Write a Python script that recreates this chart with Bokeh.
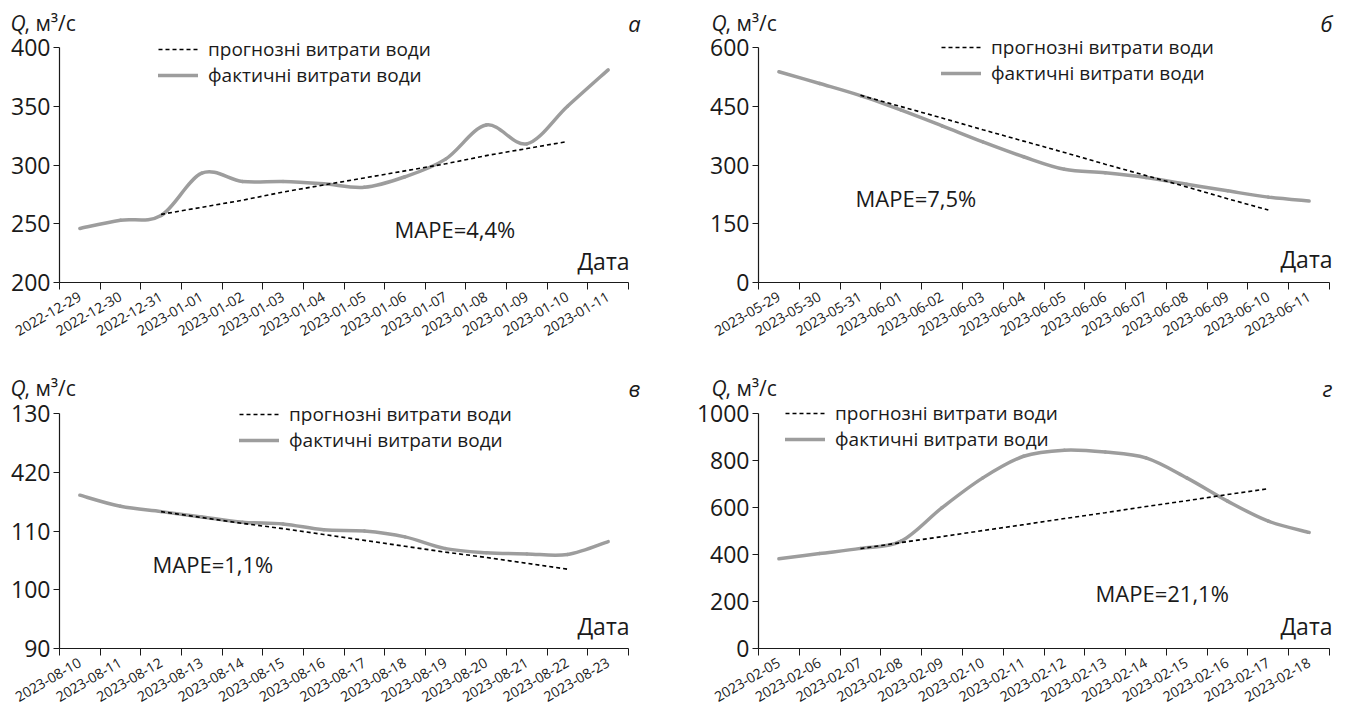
import numpy as np
from bokeh.plotting import figure
from bokeh.models import FixedTicker, Label, Legend, LegendItem, Range1d
from bokeh.layouts import column, row
from bokeh.embed import file_html
from bokeh.resources import INLINE

FONT = "Open Sans"
INK = "#1a1a1a"
GREY = "#9d9d9d"

# ---------------- data ----------------
dates_a = ["2022-12-29", "2022-12-30", "2022-12-31", "2023-01-01", "2023-01-02", "2023-01-03", "2023-01-04",
           "2023-01-05", "2023-01-06", "2023-01-07", "2023-01-08", "2023-01-09", "2023-01-10", "2023-01-11"]
actual_a = [246, 253, 257, 293, 286, 286, 284, 281, 290, 305, 334, 318, 350, 381]
forecast_a = [258, 264, 270, 277, 283, 289, 295, 301, 308, 314, 320]

dates_b = ["2023-05-29", "2023-05-30", "2023-05-31", "2023-06-01", "2023-06-02", "2023-06-03", "2023-06-04",
           "2023-06-05", "2023-06-06", "2023-06-07", "2023-06-08", "2023-06-09", "2023-06-10", "2023-06-11"]
actual_b = [538, 508, 477, 440, 400, 359, 321, 289, 280, 268, 251, 234, 218, 208]
forecast_b = [478, 449, 420, 390, 361, 332, 302, 273, 244, 214, 185]

dates_c = ["2023-08-10", "2023-08-11", "2023-08-12", "2023-08-13", "2023-08-14", "2023-08-15", "2023-08-16",
           "2023-08-17", "2023-08-18", "2023-08-19", "2023-08-20", "2023-08-21", "2023-08-22", "2023-08-23"]
actual_c = [116.1, 114.2, 113.3, 112.4, 111.5, 111.2, 110.2, 110.0, 109.0, 107.0, 106.3, 106.1, 106.0, 108.2]
forecast_c = [113.3, 112.3, 111.3, 110.4, 109.4, 108.4, 107.4, 106.4, 105.5, 104.5, 103.5]

dates_d = ["2023-02-05", "2023-02-06", "2023-02-07", "2023-02-08", "2023-02-09", "2023-02-10", "2023-02-11",
           "2023-02-12", "2023-02-13", "2023-02-14", "2023-02-15", "2023-02-16", "2023-02-17", "2023-02-18"]
actual_d = [382, 404, 426, 457, 599, 726, 818, 844, 836, 811, 726, 627, 542, 494]
forecast_d = [425, 451, 476, 502, 527, 553, 578, 604, 629, 655, 680]

forecast_start = 2  # forecast begins at the third date

yticks_a = [200, 250, 300, 350, 400]
yticks_b = [0, 150, 300, 450, 600]
yticks_c = [90, 100, 110, 120, 130]
ylabels_c = ["90", "100", "110", "420", "130"]
yticks_d = [0, 200, 400, 600, 800, 1000]

mape_a, mape_b, mape_c, mape_d = "MAPE=4,4%", "MAPE=7,5%", "MAPE=1,1%", "MAPE=21,1%"
letters = ["а", "б", "в", "г"]
legend_labels = ["прогнозні витрати води", "фактичні витрати води"]
y_title = ", м³/с"
x_title = "Дата"


def bezier_parts(xs, ys):
    n = len(xs)
    out = {k: [] for k in ["x0", "y0", "x1", "y1", "cx0", "cy0", "cx1", "cy1"]}
    for i in range(n - 1):
        im, ip = max(i - 1, 0), min(i + 2, n - 1)
        out["x0"].append(xs[i]); out["y0"].append(ys[i])
        out["x1"].append(xs[i + 1]); out["y1"].append(ys[i + 1])
        out["cx0"].append(xs[i] + (xs[i + 1] - xs[im]) / 6.0)
        out["cy0"].append(ys[i] + (ys[i + 1] - ys[im]) / 6.0)
        out["cx1"].append(xs[i + 1] - (xs[ip] - xs[i]) / 6.0)
        out["cy1"].append(ys[i + 1] - (ys[ip] - ys[i]) / 6.0)
    return out


def make_panel(dates, actual, forecast, yticks, ylabels, letter, mape,
               axes_box, fig_box, legend_xy, pos):
    # axes_box: (left, top, width, height) of the axes, absolute px
    # fig_box: (left, top, width, height) of the figure, absolute px
    al, at, aw, ah = axes_box
    gl, gt, gw, gh = fig_box
    n = len(dates)
    y0, y1 = yticks[0], yticks[-1]
    xs_per_px = n / aw
    ys_per_px = (y1 - y0) / ah
    x_start = -0.5 - (al - gl) * xs_per_px
    x_end = -0.5 + (gl + gw - al) * xs_per_px
    y_start = y0 - (gt + gh - (at + ah)) * ys_per_px
    y_end = y1 + (at - gt) * ys_per_px

    p = figure(width=gw, height=gh, output_backend="svg", toolbar_location=None,
               x_range=Range1d(x_start, x_end), y_range=Range1d(y_start, y_end),
               min_border_left=0, min_border_right=0, min_border_top=0, min_border_bottom=0)
    p.outline_line_color = None
    p.xgrid.visible = False
    p.ygrid.visible = False
    p.background_fill_color = "white"
    p.border_fill_color = "white"

    def dx(px):
        return x_start + (px - gl) * xs_per_px

    def dy(py):
        return y_start + (gt + gh - py) * ys_per_px

    xs = list(range(n))
    bz = bezier_parts(xs, actual)
    r_act = p.bezier(x0=bz["x0"], y0=bz["y0"], x1=bz["x1"], y1=bz["y1"],
                     cx0=bz["cx0"], cy0=bz["cy0"], cx1=bz["cx1"], cy1=bz["cy1"],
                     line_color=GREY, line_width=3.5, line_cap="round")
    fx = list(range(forecast_start, forecast_start + len(forecast)))
    r_fc = p.line(fx, forecast, line_color="black", line_width=1.6, line_dash="4 3")

    # axes placed at fixed data locations inside the frame
    xa = p.xaxis[0]
    xa.fixed_location = y0
    xa.bounds = (-0.5, n - 0.5)
    xa.ticker = FixedTicker(ticks=xs, minor_ticks=[i - 0.5 for i in range(n + 1)])
    xa.major_label_overrides = {i: d for i, d in enumerate(dates)}
    xa.major_label_orientation = np.pi / 6
    xa.major_tick_out = 0
    xa.major_tick_in = 0
    xa.minor_tick_out = 7
    xa.minor_tick_in = 0
    xa.minor_tick_line_color = INK
    xa.major_label_standoff = 6
    xa.major_label_text_font = FONT
    xa.major_label_text_font_size = "14px"
    xa.major_label_text_color = INK
    xa.axis_line_color = INK
    xa.axis_line_width = 1.2

    ya = p.yaxis[0]
    ya.fixed_location = -0.5
    ya.bounds = (y0, y1)
    ya.ticker = FixedTicker(ticks=yticks)
    ya.major_label_overrides = {t: l for t, l in zip(yticks, ylabels)}
    ya.major_tick_out = 6
    ya.major_tick_in = 0
    ya.minor_tick_out = 0
    ya.minor_tick_in = 0
    ya.major_tick_line_color = INK
    ya.major_label_standoff = 3
    ya.major_label_text_font = FONT
    ya.major_label_text_font_size = "23px"
    ya.major_label_text_color = INK
    ya.axis_line_color = INK
    ya.axis_line_width = 1.2

    # legend (location is measured from the frame's bottom-left corner)
    lx, ly = legend_xy
    legend = Legend(items=[LegendItem(label=legend_labels[0], renderers=[r_fc]),
                           LegendItem(label=legend_labels[1], renderers=[r_act])],
                    location=(lx - gl, gt + gh - ly), padding=0, spacing=-3, glyph_width=40,
                    glyph_height=20, label_height=20, label_standoff=10, border_line_alpha=0,
                    background_fill_alpha=0, label_text_font=FONT,
                    label_text_font_size="19px", label_text_color=INK)
    p.add_layout(legend)

    qx, qy, tlx, tly, mx, my, tx, ty = pos
    p.add_layout(Label(x=dx(qx), y=dy(qy), text="Q", text_font=FONT, text_font_style="italic",
                       text_font_size="21px", text_color=INK, text_baseline="middle"))
    p.add_layout(Label(x=dx(qx), y=dy(qy), x_offset=14, text=y_title, text_font=FONT,
                       text_font_size="21px", text_color=INK, text_baseline="middle"))
    p.add_layout(Label(x=dx(tlx), y=dy(tly), text=letter, text_font=FONT, text_font_style="italic",
                       text_font_size="22px", text_color=INK, text_baseline="middle",
                       text_align="center"))
    p.add_layout(Label(x=dx(mx), y=dy(my), text=mape, text_font=FONT,
                       text_font_size="22px", text_color=INK, text_baseline="middle"))
    p.add_layout(Label(x=dx(tx), y=dy(ty), text=x_title, text_font=FONT,
                       text_font_size="23px", text_color=INK, text_baseline="middle",
                       text_align="right"))
    return p


pa = make_panel(dates_a, actual_a, forecast_a, yticks_a, [str(t) for t in yticks_a], letters[0], mape_a,
                axes_box=(59, 47, 569, 235), fig_box=(0, 0, 690, 340), legend_xy=(158, 88),
                pos=(10, 22, 634, 22, 394, 228, 629, 260))
pb = make_panel(dates_b, actual_b, forecast_b, yticks_b, [str(t) for t in yticks_b], letters[1], mape_b,
                axes_box=(758, 47, 571, 235), fig_box=(690, 0, 659, 340), legend_xy=(941, 86),
                pos=(711, 22, 1326, 22, 855, 197, 1332, 258))
pc = make_panel(dates_c, actual_c, forecast_c, yticks_c, ylabels_c, letters[2], mape_c,
                axes_box=(59, 413, 569, 235), fig_box=(0, 340, 690, 371), legend_xy=(239, 453),
                pos=(10, 387, 634, 387, 152, 563, 629, 625))
pd = make_panel(dates_d, actual_d, forecast_d, yticks_d, [str(t) for t in yticks_d], letters[3], mape_d,
                axes_box=(758, 413, 571, 235), fig_box=(690, 340, 659, 371), legend_xy=(785, 452),
                pos=(711, 387, 1327, 387, 1095, 592, 1332, 625))

layout = column(row(pa, pb), row(pc, pd))
open("out.html", "w").write(file_html(layout, INLINE))
